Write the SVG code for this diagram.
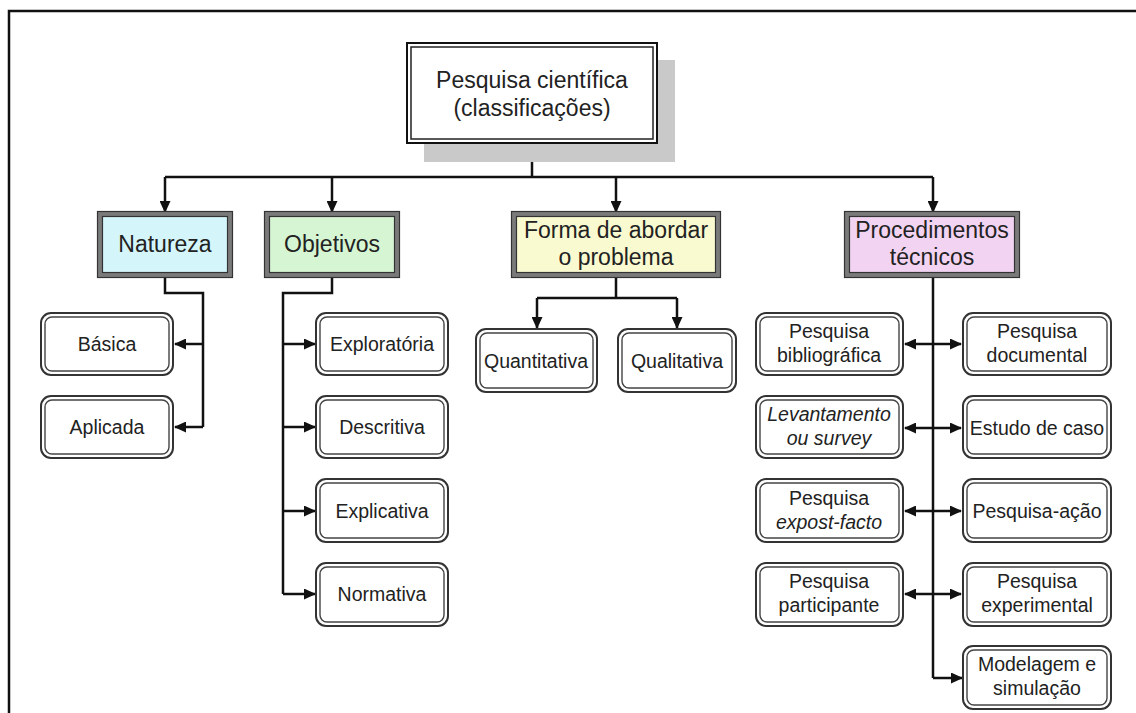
<svg xmlns="http://www.w3.org/2000/svg" width="1136" height="713" viewBox="0 0 1136 713">
<style>
text{font-family:"Liberation Sans",Arial,sans-serif;fill:#222;text-anchor:middle}
.big{font-size:23px}
.cat{font-size:23px}
.sm{font-size:19.5px}
.it{font-style:italic}
.conn{fill:none;stroke:#111;stroke-width:2.5}
.so{fill:#fff;stroke:#333;stroke-width:2}
.si{fill:none;stroke:#444;stroke-width:1.4}
.cb{stroke:#7a7a7a;stroke-width:4}
.cl{fill:none;stroke:#333;stroke-width:1.2}
</style>
<defs>
<marker id="ah" markerUnits="userSpaceOnUse" markerWidth="12" markerHeight="11" refX="11" refY="5.5" orient="auto-start-reverse" viewBox="0 0 12 11">
<path d="M0,0 L12,5.5 L0,11 z" fill="#111"/>
</marker>
</defs>
<rect width="1136" height="713" fill="#fff"/>
<g id="frame">
<path d="M9,713 V11 H1136" fill="none" stroke="#111" stroke-width="2.5"/>
</g>

<g id="connectors">
<path class="conn" d="M532,143 V177 M165,177 H933"/>
<path class="conn" marker-end="url(#ah)" d="M165,177 V212"/>
<path class="conn" marker-end="url(#ah)" d="M332,177 V212"/>
<path class="conn" marker-end="url(#ah)" d="M616,177 V212"/>
<path class="conn" marker-end="url(#ah)" d="M933,177 V212"/>
<path class="conn" d="M165,277 V293 H203 V427"/>
<path class="conn" marker-end="url(#ah)" d="M203,344 H175"/>
<path class="conn" marker-end="url(#ah)" d="M203,427 H175"/>
<path class="conn" d="M332,277 V293 H283 V594"/>
<path class="conn" marker-end="url(#ah)" d="M283,344 H315"/>
<path class="conn" marker-end="url(#ah)" d="M283,427 H315"/>
<path class="conn" marker-end="url(#ah)" d="M283,511 H315"/>
<path class="conn" marker-end="url(#ah)" d="M283,594 H315"/>
<path class="conn" d="M616,277 V298 M537,298 H677"/>
<path class="conn" marker-end="url(#ah)" d="M537,298 V328"/>
<path class="conn" marker-end="url(#ah)" d="M677,298 V328"/>
<path class="conn" d="M933,277 V678"/>
<path class="conn" marker-end="url(#ah)" d="M933,678 H962"/>
<path class="conn" marker-start="url(#ah)" marker-end="url(#ah)" d="M905,344 H961"/>
<path class="conn" marker-start="url(#ah)" marker-end="url(#ah)" d="M905,428 H961"/>
<path class="conn" marker-start="url(#ah)" marker-end="url(#ah)" d="M905,511 H961"/>
<path class="conn" marker-start="url(#ah)" marker-end="url(#ah)" d="M905,594 H961"/>
</g>

<g id="root">
<rect x="424" y="60" width="251" height="102" fill="#c9c9c9"/>
<rect x="407" y="43" width="250" height="100" fill="#fff" stroke="#111" stroke-width="2"/>
<rect x="411" y="47" width="242" height="92" fill="none" stroke="#222" stroke-width="1.5"/>
<text class="big" x="532" y="88">Pesquisa científica</text>
<text class="big" x="532" y="116">(classificações)</text>
</g>

<g id="natureza">
<rect x="100" y="214" width="130" height="61" fill="#d4f6fb" class="cb"/>
<rect x="97.5" y="211.5" width="135" height="66" class="cl"/>
<rect x="102.5" y="216.5" width="125" height="56" class="cl"/>
<text class="cat" x="165" y="252">Natureza</text>
</g>
<g id="objetivos">
<rect x="267" y="214" width="130" height="61" fill="#d6f5d3" class="cb"/>
<rect x="264.5" y="211.5" width="135" height="66" class="cl"/>
<rect x="269.5" y="216.5" width="125" height="56" class="cl"/>
<text class="cat" x="332" y="252">Objetivos</text>
</g>
<g id="forma">
<rect x="514" y="214" width="204" height="61" fill="#fafad0" class="cb"/>
<rect x="511.5" y="211.5" width="209" height="66" class="cl"/>
<rect x="516.5" y="216.5" width="199" height="56" class="cl"/>
<text class="cat" x="616" y="238">Forma de abordar</text>
<text class="cat" x="616" y="265">o problema</text>
</g>
<g id="procedimentos">
<rect x="847" y="214" width="170" height="61" fill="#f2d4f2" class="cb"/>
<rect x="844.5" y="211.5" width="175" height="66" class="cl"/>
<rect x="849.5" y="216.5" width="165" height="56" class="cl"/>
<text class="cat" x="932" y="238">Procedimentos</text>
<text class="cat" x="932" y="265">técnicos</text>
</g>

<g id="basica">
<rect class="so" x="41" y="313" width="132" height="62" rx="10"/>
<rect class="si" x="45" y="317" width="124" height="54" rx="7"/>
<text class="sm" x="107" y="351">Básica</text>
</g>
<g id="aplicada">
<rect class="so" x="41" y="396" width="132" height="62" rx="10"/>
<rect class="si" x="45" y="400" width="124" height="54" rx="7"/>
<text class="sm" x="107" y="434">Aplicada</text>
</g>

<g id="exploratoria">
<rect class="so" x="316" y="313" width="132" height="62" rx="10"/>
<rect class="si" x="320" y="317" width="124" height="54" rx="7"/>
<text class="sm" x="382" y="351">Exploratória</text>
</g>
<g id="descritiva">
<rect class="so" x="316" y="396" width="132" height="62" rx="10"/>
<rect class="si" x="320" y="400" width="124" height="54" rx="7"/>
<text class="sm" x="382" y="434">Descritiva</text>
</g>
<g id="explicativa">
<rect class="so" x="316" y="479" width="132" height="63" rx="10"/>
<rect class="si" x="320" y="483" width="124" height="55" rx="7"/>
<text class="sm" x="382" y="518">Explicativa</text>
</g>
<g id="normativa">
<rect class="so" x="316" y="563" width="132" height="63" rx="10"/>
<rect class="si" x="320" y="567" width="124" height="55" rx="7"/>
<text class="sm" x="382" y="601">Normativa</text>
</g>

<g id="quantitativa">
<rect class="so" x="476" y="329" width="121" height="63" rx="10"/>
<rect class="si" x="480" y="333" width="113" height="55" rx="7"/>
<text class="sm" x="536" y="368">Quantitativa</text>
</g>
<g id="qualitativa">
<rect class="so" x="618" y="329" width="118" height="63" rx="10"/>
<rect class="si" x="622" y="333" width="110" height="55" rx="7"/>
<text class="sm" x="677" y="368">Qualitativa</text>
</g>

<g id="bibliografica">
<rect class="so" x="756" y="313" width="147" height="62" rx="10"/>
<rect class="si" x="760" y="317" width="139" height="54" rx="7"/>
<text class="sm" x="829" y="338">Pesquisa</text>
<text class="sm" x="829" y="362">bibliográfica</text>
</g>
<g id="documental">
<rect class="so" x="963" y="313" width="148" height="62" rx="10"/>
<rect class="si" x="967" y="317" width="140" height="54" rx="7"/>
<text class="sm" x="1037" y="338">Pesquisa</text>
<text class="sm" x="1037" y="362">documental</text>
</g>
<g id="levantamento">
<rect class="so" x="756" y="396" width="147" height="62" rx="10"/>
<rect class="si" x="760" y="400" width="139" height="54" rx="7"/>
<text class="sm it" x="829" y="421">Levantamento</text>
<text class="sm it" x="829" y="445">ou survey</text>
</g>
<g id="estudo">
<rect class="so" x="963" y="396" width="148" height="62" rx="10"/>
<rect class="si" x="967" y="400" width="140" height="54" rx="7"/>
<text class="sm" x="1037" y="435">Estudo de caso</text>
</g>
<g id="expostfacto">
<rect class="so" x="756" y="479" width="147" height="63" rx="10"/>
<rect class="si" x="760" y="483" width="139" height="55" rx="7"/>
<text class="sm" x="829" y="505">Pesquisa</text>
<text class="sm it" x="829" y="529">expost-facto</text>
</g>
<g id="pesquisaacao">
<rect class="so" x="963" y="479" width="148" height="63" rx="10"/>
<rect class="si" x="967" y="483" width="140" height="55" rx="7"/>
<text class="sm" x="1037" y="518">Pesquisa-ação</text>
</g>
<g id="participante">
<rect class="so" x="756" y="563" width="147" height="63" rx="10"/>
<rect class="si" x="760" y="567" width="139" height="55" rx="7"/>
<text class="sm" x="829" y="588">Pesquisa</text>
<text class="sm" x="829" y="612">participante</text>
</g>
<g id="experimental">
<rect class="so" x="963" y="563" width="148" height="63" rx="10"/>
<rect class="si" x="967" y="567" width="140" height="55" rx="7"/>
<text class="sm" x="1037" y="588">Pesquisa</text>
<text class="sm" x="1037" y="612">experimental</text>
</g>
<g id="modelagem">
<rect class="so" x="963" y="646" width="148" height="63" rx="10"/>
<rect class="si" x="967" y="650" width="140" height="55" rx="7"/>
<text class="sm" x="1037" y="671">Modelagem e</text>
<text class="sm" x="1037" y="695">simulação</text>
</g>
</svg>
